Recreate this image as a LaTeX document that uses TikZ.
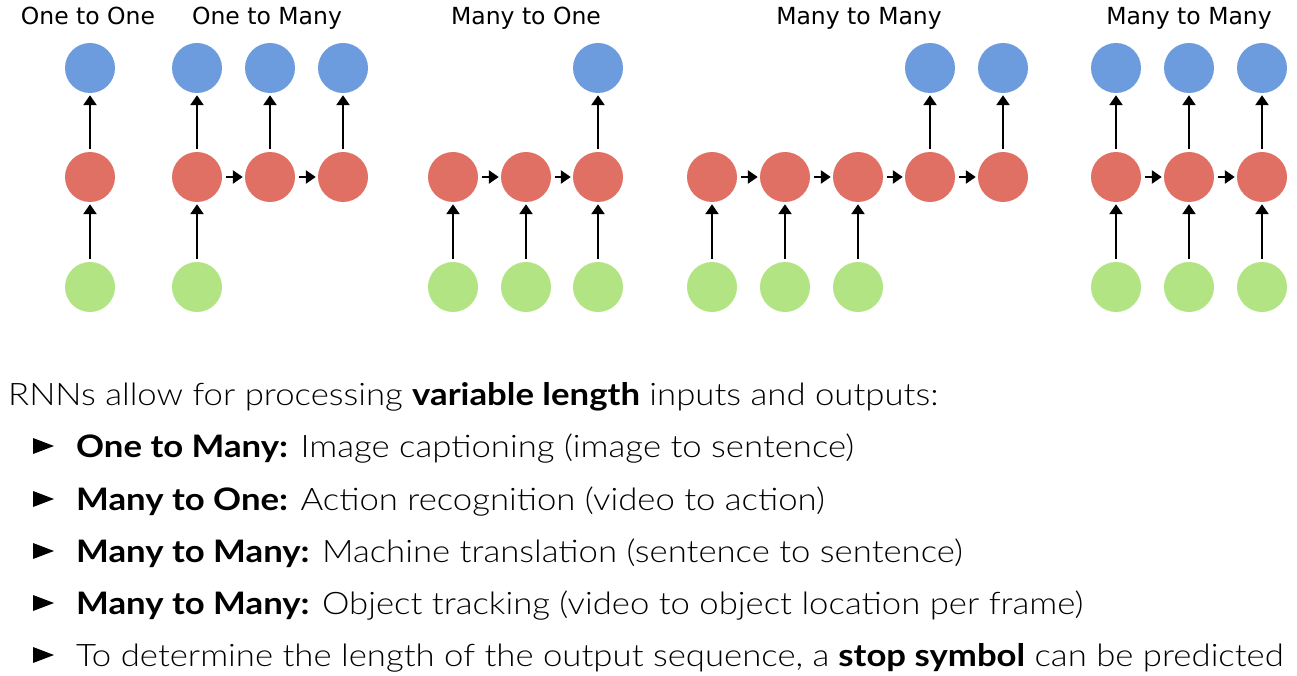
\documentclass[tikz,border=0pt]{standalone}
\usepackage{fontspec}
\usetikzlibrary{arrows.meta}
\IfFontExistsTF{Lato Light}{\setmainfont{Lato Light}[BoldFont=Lato Bold, FakeStretch=1.12]}{\setmainfont{Lato}[FakeStretch=1.12]}
\newfontfamily\titlefont{DejaVu Sans}
\definecolor{outblue}{RGB}{108,155,222}
\definecolor{hidred}{RGB}{224,112,100}
\definecolor{ingreen}{RGB}{178,228,132}
\tikzset{
  cell/.style={circle, minimum size=50pt, inner sep=0pt, draw=none},
  outc/.style={cell, fill=outblue},
  hidc/.style={cell, fill=hidred},
  inc/.style={cell, fill=ingreen},
  varr/.style={-{Triangle[length=10pt,width=13pt]}, line width=2.8pt, shorten <=3pt, shorten >=2pt},
  harr/.style={-{Triangle[length=10pt,width=13pt]}, line width=2.8pt, shorten <=4pt, shorten >=2pt},
  ttl/.style={font=\titlefont\fontsize{23.5}{28}\selectfont, anchor=base, inner sep=0pt},
  body/.style={font=\fontsize{31}{36}\selectfont, anchor=base west, inner sep=0pt},
  bul/.style={fill=black, draw=none}
}
\begin{document}
\begin{tikzpicture}[x=1pt,y=-1pt]
\useasboundingbox (0,0) rectangle (1297,676);
% titles
\node[ttl] (t1) at (88,25) {One to One};
\node[ttl] (t2) at (267,25) {One to Many};
\node[ttl] (t3) at (526,25) {Many to One};
\node[ttl] (t4) at (859,25) {Many to Many};
\node[ttl] (t5) at (1189,25) {Many to Many};
% One to One
\node[outc] (a1o) at (90,68) {};
\node[hidc] (a1h) at (90,177) {};
\node[inc]  (a1i) at (90,287) {};
\draw[varr] (a1i) -- (a1h);
\draw[varr] (a1h) -- (a1o);
% One to Many
\foreach \n/\x in {1/197,2/270,3/343}{
  \node[outc] (b\n o) at (\x,68) {};
  \node[hidc] (b\n h) at (\x,177) {};
  \draw[varr] (b\n h) -- (b\n o);
}
\node[inc] (b1i) at (197,287) {};
\draw[varr] (b1i) -- (b1h);
\draw[harr] (b1h) -- (b2h);
\draw[harr] (b2h) -- (b3h);
% Many to One
\foreach \n/\x in {1/453,2/526,3/598}{
  \node[hidc] (c\n h) at (\x,177) {};
  \node[inc] (c\n i) at (\x,287) {};
  \draw[varr] (c\n i) -- (c\n h);
}
\node[outc] (c3o) at (598,68) {};
\draw[varr] (c3h) -- (c3o);
\draw[harr] (c1h) -- (c2h);
\draw[harr] (c2h) -- (c3h);
% Many to Many (delayed)
\foreach \n/\x in {1/712,2/785,3/858,4/930,5/1003}{
  \node[hidc] (d\n h) at (\x,177) {};
}
\foreach \n/\x in {1/712,2/785,3/858}{
  \node[inc] (d\n i) at (\x,287) {};
  \draw[varr] (d\n i) -- (d\n h);
}
\foreach \n/\x in {4/930,5/1003}{
  \node[outc] (d\n o) at (\x,68) {};
  \draw[varr] (d\n h) -- (d\n o);
}
\draw[harr] (d1h) -- (d2h);
\draw[harr] (d2h) -- (d3h);
\draw[harr] (d3h) -- (d4h);
\draw[harr] (d4h) -- (d5h);
% Many to Many (synced)
\foreach \n/\x in {1/1116,2/1189,3/1262}{
  \node[outc] (e\n o) at (\x,68) {};
  \node[hidc] (e\n h) at (\x,177) {};
  \node[inc] (e\n i) at (\x,287) {};
  \draw[varr] (e\n i) -- (e\n h);
  \draw[varr] (e\n h) -- (e\n o);
}
\draw[harr] (e1h) -- (e2h);
\draw[harr] (e2h) -- (e3h);
% text
\node[body] (l0) at (8,405) {RNNs allow for processing \textbf{variable length} inputs and outputs:};
\node[body] (l1) at (76,457) {\textbf{One to Many:} Image captioning (image to sentence)};
\node[body] (l2) at (76,510) {\textbf{Many to One:} Action recognition (video to action)};
\node[body] (l3) at (76,562) {\textbf{Many to Many:} Machine translation (sentence to sentence)};
\node[body] (l4) at (76,614) {\textbf{Many to Many:} Object tracking (video to object location per frame)};
\node[body] (l5) at (76,666) {To determine the length of the output sequence, a \textbf{stop symbol} can be predicted};
\foreach \y in {457,510,562,614,666}{
  \fill[bul] (33,\y-19) -- (54,\y-11) -- (33,\y-3) -- cycle;
}
\end{tikzpicture}
\end{document}
